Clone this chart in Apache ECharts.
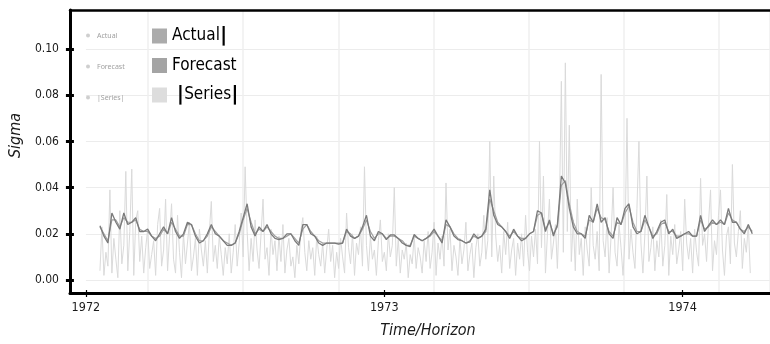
<!DOCTYPE html>
<html>
<head>
<meta charset="utf-8">
<title>Sigma</title>
<script src="https://cdn.jsdelivr.net/npm/echarts@6/dist/echarts.min.js"></script>
<style>
html,body{margin:0;padding:0;background:#fff;}
#main{width:770px;height:344px;}
</style>
</head>
<body>
<div id="main"></div>
<script>
var FONT = "'Liberation Sans Narrow','DejaVu Sans Condensed',sans-serif";

// axis ticks
var yearTicks = [1972, 1973, 1974];
var sigmaTicks = [0, 0.02, 0.04, 0.06, 0.08, 0.10];
var xEnd = 1974.293;

// names of the series
var seriesNames = ['Actual', 'Forecast', '|Series|'];

// sigma estimates, one value every 1/75 year
var sigmaStart = 1972.047;
var sigmaStep = 1 / 75;
var actual = [
	0.0235,0.019,0.016,0.029,0.025,0.022,0.029,0.024,0.025,0.027,
	0.021,0.021,0.022,0.019,0.017,0.020,0.023,0.020,0.027,0.021,
	0.018,0.020,0.025,0.024,0.019,0.016,0.017,0.020,0.024,0.020,
	0.019,0.017,0.015,0.015,0.016,0.021,0.027,0.033,0.023,0.019,
	0.023,0.021,0.024,0.020,0.018,0.0175,0.018,0.020,0.020,0.017,
	0.015,0.024,0.024,0.020,0.019,0.016,0.015,0.016,0.016,0.016,
	0.0155,0.016,0.022,0.019,0.018,0.019,0.023,0.028,0.019,0.017,
	0.021,0.020,0.0175,0.0195,0.0195,0.018,0.016,0.015,0.0145,0.0197,
	0.018,0.017,0.018,0.0195,0.022,0.019,0.016,0.026,0.023,0.019,
	0.0175,0.017,0.016,0.0165,0.020,0.018,0.019,0.022,0.039,0.028,
	0.024,0.023,0.021,0.018,0.022,0.019,0.017,0.018,0.020,0.021,
	0.030,0.029,0.021,0.026,0.019,0.024,0.045,0.042,0.031,0.023,
	0.020,0.020,0.018,0.028,0.025,0.033,0.025,0.027,0.020,0.018,
	0.027,0.024,0.031,0.033,0.023,0.020,0.021,0.028,0.023,0.018,
	0.021,0.025,0.026,0.020,0.022,0.018,0.019,0.020,0.021,0.019,
	0.019,0.028,0.021,0.0235,0.026,0.024,0.026,0.024,0.031,0.025,
	0.025,0.022,0.020,0.024,0.020
];
var forecast = [
	0.023,0.020,0.017,0.026,0.026,0.023,0.027,0.025,0.025,0.026,
	0.022,0.021,0.021,0.019,0.018,0.019,0.022,0.020,0.025,0.022,
	0.019,0.019,0.024,0.024,0.020,0.017,0.017,0.019,0.023,0.021,
	0.019,0.017,0.016,0.015,0.016,0.020,0.026,0.031,0.025,0.020,
	0.022,0.021,0.023,0.021,0.019,0.018,0.018,0.019,0.020,0.018,
	0.016,0.022,0.024,0.021,0.019,0.017,0.016,0.016,0.016,0.016,
	0.016,0.016,0.021,0.020,0.018,0.019,0.022,0.026,0.021,0.018,
	0.020,0.020,0.018,0.019,0.019,0.018,0.017,0.015,0.015,0.019,
	0.018,0.017,0.018,0.019,0.021,0.019,0.017,0.024,0.023,0.020,
	0.018,0.017,0.016,0.017,0.019,0.018,0.019,0.021,0.035,0.030,
	0.025,0.023,0.021,0.019,0.021,0.019,0.018,0.018,0.020,0.021,
	0.028,0.029,0.022,0.025,0.020,0.023,0.041,0.043,0.033,0.025,
	0.021,0.020,0.019,0.026,0.025,0.031,0.027,0.026,0.021,0.019,
	0.025,0.024,0.029,0.032,0.025,0.021,0.021,0.026,0.023,0.019,
	0.020,0.024,0.025,0.021,0.021,0.019,0.019,0.020,0.020,0.019,
	0.019,0.026,0.022,0.023,0.025,0.024,0.025,0.024,0.029,0.026,
	0.025,0.022,0.021,0.023,0.021
];

// absolute series, one value every 1/150 year
var absStart = 1972.047;
var absStep = 1 / 150;
var absSeries = [
	0.004,0.023,0.002,0.012,0.006,0.039,0.003,0.018,0.009,0.001,0.030,0.007,0.015,0.047,0.004,0.021,0.048,0.002,0.026,0.030,
	0.008,0.019,0.003,0.014,0.022,0.005,0.011,0.017,0.002,0.024,0.031,0.006,0.013,0.035,0.004,0.019,0.033,0.009,0.003,0.028,
	0.012,0.001,0.020,0.007,0.016,0.025,0.004,0.010,0.018,0.002,0.022,0.013,0.006,0.017,0.003,0.021,0.034,0.008,0.015,0.005,
	0.019,0.011,0.002,0.014,0.007,0.020,0.003,0.012,0.024,0.006,0.016,0.029,0.010,0.049,0.021,0.004,0.018,0.008,0.026,0.013,
	0.005,0.020,0.035,0.009,0.014,0.002,0.022,0.011,0.017,0.004,0.019,0.008,0.024,0.003,0.013,0.018,0.006,0.010,0.001,0.015,
	0.007,0.021,0.027,0.012,0.004,0.017,0.009,0.014,0.002,0.019,0.011,0.006,0.016,0.003,0.013,0.022,0.008,0.015,0.001,0.012,
	0.005,0.018,0.010,0.003,0.029,0.014,0.007,0.020,0.002,0.016,0.011,0.023,0.006,0.049,0.015,0.004,0.019,0.009,0.013,0.002,
	0.017,0.026,0.008,0.012,0.004,0.020,0.010,0.015,0.040,0.006,0.018,0.003,0.013,0.009,0.016,0.001,0.011,0.007,0.019,0.005,
	0.014,0.010,0.003,0.017,0.008,0.021,0.005,0.012,0.025,0.002,0.016,0.009,0.019,0.006,0.042,0.013,0.022,0.004,0.015,0.010,
	0.002,0.018,0.007,0.013,0.025,0.004,0.011,0.016,0.001,0.014,0.020,0.006,0.012,0.028,0.009,0.017,0.060,0.010,0.045,0.019,
	0.008,0.015,0.003,0.021,0.011,0.025,0.005,0.013,0.018,0.002,0.016,0.009,0.020,0.006,0.028,0.012,0.004,0.019,0.010,0.022,
	0.007,0.060,0.014,0.045,0.003,0.020,0.035,0.009,0.016,0.024,0.005,0.030,0.086,0.012,0.094,0.021,0.067,0.008,0.026,0.004,
	0.035,0.011,0.018,0.002,0.023,0.013,0.006,0.040,0.015,0.009,0.021,0.004,0.089,0.017,0.010,0.027,0.003,0.019,0.040,0.012,
	0.006,0.024,0.014,0.002,0.018,0.070,0.009,0.022,0.012,0.005,0.031,0.060,0.016,0.003,0.020,0.045,0.008,0.014,0.023,0.004,
	0.017,0.010,0.026,0.006,0.015,0.037,0.002,0.019,0.011,0.024,0.007,0.013,0.021,0.004,0.035,0.016,0.009,0.018,0.003,0.022,
	0.012,0.006,0.044,0.015,0.020,0.008,0.025,0.039,0.004,0.017,0.011,0.028,0.039,0.013,0.002,0.019,0.023,0.007,0.050,0.016,
	0.010,0.021,0.030,0.005,0.018,0.012,0.024,0.003
];

function toPairs(start, step, values) {
	return values.map(function (v, i) { return [start + i * step, v]; });
}

var chart = echarts.init(document.getElementById('main'), null, { renderer: 'canvas' });

var hidden = { show: false };

var option = {
	animation: false,
	backgroundColor: '#ffffff',
	grid: [
		// data area
		{ left: 82, right: 0, top: 49, bottom: 61 },
		// frame
		{ left: 70, right: 0, top: 10, bottom: 51 },
		// faint vertical grid of the inner plot
		{ left: 148, right: 0, top: 10, bottom: 51 }
	],
	legend: [
		{
			orient: 'vertical',
			left: 152,
			top: 26,
			padding: 0,
			icon: 'rect',
			itemWidth: 15,
			itemHeight: 15,
			itemGap: 9.5,
			data: [
				{ name: seriesNames[0], itemStyle: { color: '#ababab' } },
				{ name: seriesNames[1], itemStyle: { color: '#a4a4a4' } },
				{ name: seriesNames[2], itemStyle: { color: '#dddddd' } }
			],
			formatter: function (name) {
				if (name === 'Actual') return 'Actual{bar||}';
				if (name === '|Series|') return ' {bar||}Series{bar||}';
				return name;
			},
			textStyle: {
				fontFamily: FONT, fontSize: 17, lineHeight: 20, color: '#000',
				rich: { bar: { fontFamily: 'DejaVu Sans', fontWeight: 'bold', fontSize: 20, color: '#000' } }
			}
		},
		{
			orient: 'vertical',
			left: 86,
			top: 31,
			padding: 0,
			icon: 'circle',
			itemWidth: 8,
			itemHeight: 4,
			itemGap: 22,
			data: seriesNames.map(function (n) { return { name: n, itemStyle: { color: '#cfcfcf' } }; }),
			textStyle: { fontFamily: "'Noto Sans',sans-serif", fontSize: 7, lineHeight: 9, color: '#a0a0a0' }
		}
	],
	xAxis: [
		{
			gridIndex: 0, type: 'value',
			min: yearTicks[0], max: xEnd, interval: yearTicks[1] - yearTicks[0],
			offset: 10,
			name: 'Time/Horizon', nameLocation: 'middle', nameGap: 33,
			nameTextStyle: { fontFamily: FONT, fontStyle: 'italic', fontSize: 16, color: '#1a1a1a' },
			axisLine: { show: false, onZero: false },
			axisTick: { show: true, length: 7, lineStyle: { color: '#000', width: 1.2 } },
			axisLabel: {
				fontFamily: FONT, fontSize: 12.5, color: '#1a1a1a', margin: 11, showMaxLabel: false,
				formatter: function (v) { return yearTicks.indexOf(Math.round(v)) > -1 && Math.abs(v - Math.round(v)) < 1e-6 ? String(Math.round(v)) : ''; }
			},
			splitLine: hidden
		},
		{
			gridIndex: 1, type: 'value', min: 0, max: 1, position: 'bottom', z: 5,
			axisLine: { show: true, onZero: false, lineStyle: { color: '#000', width: 3 } },
			axisTick: hidden, axisLabel: hidden, splitLine: hidden
		},
		{
			gridIndex: 1, type: 'value', min: 0, max: 1, position: 'top', z: 5,
			axisLine: { show: true, onZero: false, lineStyle: { color: '#000', width: 2.5 } },
			axisTick: hidden, axisLabel: hidden, splitLine: hidden
		},
		{
			gridIndex: 2, type: 'value', min: 0, max: 6.536, interval: 1,
			axisLine: { show: false, onZero: false }, axisTick: hidden, axisLabel: hidden,
			splitLine: { show: true, lineStyle: { color: '#efefef', width: 1.5 } }
		}
	],
	yAxis: [
		{
			gridIndex: 0, type: 'value',
			min: sigmaTicks[0], max: sigmaTicks[sigmaTicks.length - 1], interval: sigmaTicks[1] - sigmaTicks[0],
			offset: 12,
			name: 'Sigma', nameLocation: 'middle', nameGap: 46,
			nameTextStyle: { fontFamily: FONT, fontStyle: 'italic', fontSize: 16, color: '#1a1a1a', padding: [0, 0, 0, 58] },
			axisLine: { show: false, onZero: false },
			axisTick: { show: true, length: 8, lineStyle: { color: '#000', width: 3 } },
			axisLabel: {
				fontFamily: FONT, fontSize: 12, color: '#1a1a1a', margin: 15,
				formatter: function (v) { return v.toFixed(2); }
			},
			splitLine: { show: true, lineStyle: { color: '#ececec', width: 1 } }
		},
		{
			gridIndex: 1, type: 'value', min: 0, max: 1, position: 'left', z: 5,
			axisLine: { show: true, onZero: false, lineStyle: { color: '#000', width: 3 } },
			axisTick: hidden, axisLabel: hidden, splitLine: hidden
		},
		{
			gridIndex: 2, type: 'value', min: 0, max: 1,
			axisLine: hidden, axisTick: hidden, axisLabel: hidden, splitLine: hidden
		}
	],
	series: [
		{
			name: seriesNames[2], type: 'line', xAxisIndex: 0, yAxisIndex: 0,
			data: toPairs(absStart, absStep, absSeries),
			symbol: 'none', z: 1,
			itemStyle: { color: '#dddddd' },
			lineStyle: { color: '#dadada', width: 1 }
		},
		{
			name: seriesNames[1], type: 'line', xAxisIndex: 0, yAxisIndex: 0,
			data: toPairs(sigmaStart, sigmaStep, forecast),
			symbol: 'none', z: 2,
			itemStyle: { color: '#a4a4a4' },
			lineStyle: { color: '#a0a0a0', width: 1.2 }
		},
		{
			name: seriesNames[0], type: 'line', xAxisIndex: 0, yAxisIndex: 0,
			data: toPairs(sigmaStart, sigmaStep, actual),
			symbol: 'none', z: 3,
			itemStyle: { color: '#ababab' },
			lineStyle: { color: '#7a7a7a', width: 1.3 }
		}
	]
};

chart.setOption(option);
</script>
</body>
</html>
